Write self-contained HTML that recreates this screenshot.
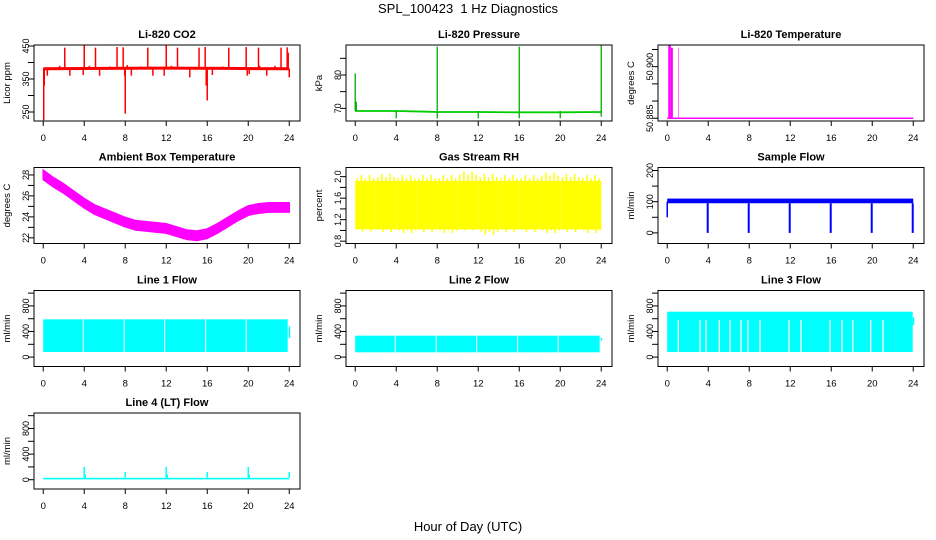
<!DOCTYPE html>
<html><head><meta charset="utf-8"><style>
html,body{margin:0;padding:0;background:#fff;}
svg{display:block;font-family:"Liberation Sans",Arial,sans-serif;}
</style></head><body>
<svg id="chart" width="936" height="540" viewBox="0 0 936 540" xmlns="http://www.w3.org/2000/svg">
<rect x="0" y="0" width="936" height="540" fill="#fff"/>
<text x="468" y="13" font-size="13" text-anchor="middle">SPL_100423&#160; 1 Hz Diagnostics</text>
<text x="468" y="531" font-size="13" text-anchor="middle">Hour of Day (UTC)</text>
</svg>
<script>
// ---------- data ----------
const xTicks = [0,4,8,12,16,20,24];
// CO2
const co2Base = [[0,381],[6,382],[12,383],[18,382],[24,381]];
const co2Spikes = [[2.1,445],[4.0,452],[5.1,445],[7.2,447],[7.8,446],[10.2,445],[12.0,452],[13.1,445],[15.2,445],[15.8,447],[18.1,445],[19.8,447],[21.0,445],[23.2,445],[23.8,446],[23.9,430],
 [0.05,225],[0.1,330],[8.0,245],[16.0,285],[15.9,330],[7.95,360],[0.4,360],[2.6,360],[3.9,362],[5.5,360],[8.6,360],[10.7,360],[11.8,360],[14.3,355],[16.5,362],[19.9,360],[20.1,365],[21.8,360],[24.0,355],
 [1.6,390],[4.5,390],[6.5,388],[8.2,392],[9.5,388],[10.5,388],[12.5,390],[17.5,388],[21.1,390],[22.6,390]];
// Pressure
const presBase = [[0,69.2],[4,69.2],[7,69.0],[8,68.9],[12,68.9],[16,68.8],[20,68.8],[24,68.9]];
const presSpikes = [[0,80.5],[0.1,72],[8,88.5],[16,88.5],[24,89],[4,67],[8,67],[12,67],[16,67],[20,67],[24,67.5]];
// Li-820 temperature
const ltBase = 50.885;
const ltBlocks = [[0.1,0.35,50.9063],[0.35,0.55,50.9055],[1.08,1.13,50.9055]];
// Ambient box temperature (hourly center)
const ambHours = [0,1,2,3,4,5,6,7,8,9,10,11,12,13,14,15,16,17,18,19,20,21,22,23,24];
const ambTemp = [28.0,27.3,26.7,26.0,25.3,24.7,24.3,23.9,23.5,23.2,23.1,23.0,22.9,22.6,22.3,22.2,22.4,22.9,23.5,24.1,24.6,24.8,24.9,24.9,24.9];
// Gas stream RH (2-hour bins low/high)
const rhBins = [0,2,4,6,8,10,12,14,16,18,20,22];
const rhLow = [0.98,0.97,0.95,0.97,0.95,1.0,0.92,0.97,0.97,0.95,0.97,0.95];
const rhHigh = [2.03,2.05,2.03,2.03,2.03,2.1,2.05,2.03,2.03,2.08,2.05,2.03];
// Sample flow
const sfDrops = [4,8,12,16,20,24];
const sfBand = [95,110];
// Line flows
const l1Segs = [[0.0,3.85],[3.95,7.85],[7.95,11.8],[11.9,15.8],[15.9,19.75],[19.85,23.85]];
const l1Range = [80,590];
const l2Segs = [[0.0,3.85],[3.95,7.85],[7.95,11.8],[11.9,15.8],[15.9,19.75],[19.85,23.85]];
const l2Range = [75,335];
const l3Range = [79,710];
const l3Gaps = [1.08,3.2,3.78,5.08,6.12,7.2,7.88,9.05,11.88,13.05,15.88,17.05,18.1,19.85,21.05];
const l4Base = [5,30];
const l4Spikes = [[4.0,200],[4.1,80],[8,120],[12,200],[12.1,80],[16,120],[20,200],[20.1,80],[24,120]];

// ---------- layout ----------
const NS="http://www.w3.org/2000/svg";
const svg=document.getElementById('chart');
const colL=[34,346,658], rowT=[45,167.5,290.5,413], W=266, H=76;
const XMIN=-0.9, XMAX=25.05;
function mk(tag, attrs, name, parent){
  const e=document.createElementNS(NS,tag);
  for(const k in attrs) e.setAttribute(k, attrs[k]);
  
  
  (parent||svg).appendChild(e); return e;
}
function panel(c,r,title,ylab,ymin,ymax,ticks,labels,key){
  const p={l:colL[c],t:rowT[r],ymin,ymax};
  p.X=h=>p.l+(h-XMIN)/(XMAX-XMIN)*W;
  p.Y=v=>p.t+H-(v-ymin)/(ymax-ymin)*H;
  p.g=mk('g',{},key+'-panel');
  const clip=mk('clipPath',{id:'cp'+key},key+'-clip',p.g);
  mk('rect',{x:p.l,y:p.t,width:W,height:H},key+'-clip-rect',clip);
  p.d=mk('g',{'clip-path':'url(#cp'+key+')'},key+'-series',p.g);
  mk('rect',{x:p.l,y:p.t,width:W,height:H,fill:'none',stroke:'#000','stroke-width':1},key+'-plot-box',p.g);
  mk('text',{x:p.l+W/2,y:p.t-7,'font-size':11,'font-weight':'bold','text-anchor':'middle'},key+'-title',p.g).textContent=title;
  const yl=mk('text',{x:0,y:0,'font-size':9.5,'text-anchor':'middle',transform:`translate(${p.l-24},${p.t+H/2}) rotate(-90)`},key+'-y-axis-title',p.g);
  yl.textContent=ylab;
  const yb=p.t+H;
  mk('line',{x1:p.X(0),x2:p.X(24),y1:yb,y2:yb,stroke:'#000'},key+'-x-axis',p.g);
  xTicks.forEach(t=>{
    mk('line',{x1:p.X(t),x2:p.X(t),y1:yb,y2:yb+5,stroke:'#000'},key+'-x-tick',p.g);
    mk('text',{x:p.X(t),y:yb+20,'font-size':9.5,'text-anchor':'middle'},key+'-x-tick-label',p.g).textContent=t;
  });
  ticks.forEach(t=>{
    mk('line',{x1:p.l-6,x2:p.l,y1:p.Y(t),y2:p.Y(t),stroke:'#000'},key+'-y-tick',p.g);
  });
  labels.forEach(t=>{
    mk('text',{x:0,y:0,'font-size':9,'text-anchor':'middle',transform:`translate(${p.l-5},${p.Y(t[0])}) rotate(-90)`},key+'-y-tick-label',p.g).textContent=t[1];
  });
  return p;
}
function vbar(p,h,v0,v1,col,w,name){
  mk('line',{x1:p.X(h),x2:p.X(h),y1:p.Y(v0),y2:p.Y(v1),stroke:col,'stroke-width':w||1.2},name,p.d);
}
function rectv(p,h0,h1,v0,v1,col,name){
  mk('rect',{x:p.X(h0),y:p.Y(v1),width:p.X(h1)-p.X(h0),height:p.Y(v0)-p.Y(v1),fill:col},name,p.d);
}
function poly(p,pts,col,w,name){
  mk('polyline',{points:pts.map(q=>p.X(q[0])+','+p.Y(q[1])).join(' '),fill:'none',stroke:col,'stroke-width':w},name,p.d);
}

// CO2
let p=panel(0,0,'Li-820 CO2','Licor ppm',222.7,453,[250,300,350,400,450],[[250,'250'],[350,'350'],[450,'450']],'co2');
poly(p,co2Base,'#f00',3,'co2-baseline');
co2Spikes.forEach(s=>vbar(p,s[0],co2Base[0][1],s[1],'#f00',1.5,'co2-spike'));
// Pressure
p=panel(1,0,'Li-820 Pressure','kPa',66.2,89,[70,75,80,85],[[70,'70'],[80,'80']],'pres');
poly(p,presBase,'#0c0',1.8,'pressure-line');
presSpikes.forEach(s=>vbar(p,s[0],presBase[0][1],s[1],'#0a0',1.3,'pressure-spike'));
// Li temp
p=panel(2,0,'Li-820 Temperature','degrees C',50.8842,50.9063,[50.885,50.890,50.895,50.900,50.905],[[50.885,'50.885'],[50.900,'50.900']],'litemp');
poly(p,[[0,ltBase],[24,ltBase]],'#f0f',1.5,'li-temp-line');
ltBlocks.forEach(b=>rectv(p,b[0],b[1],ltBase,b[2],'#f0f','li-temp-spike'));
// Ambient
p=panel(0,1,'Ambient Box Temperature','degrees C',21.46,28.71,[22,23,24,25,26,27,28],[[22,'22'],[24,'24'],[26,'26'],[28,'28']],'amb');
{
  const up=ambHours.map((h,i)=>[h,ambTemp[i]+0.45]);
  const dn=ambHours.map((h,i)=>[h,ambTemp[i]-0.45]).reverse();
  mk('polygon',{points:up.concat(dn).map(q=>p.X(q[0])+','+p.Y(q[1])).join(' '),fill:'#f0f',stroke:'#f0f','stroke-width':1.5},'ambient-temp-band',p.d);
}
// RH
p=panel(1,1,'Gas Stream RH','percent',0.757,2.17,[0.8,1.0,1.2,1.4,1.6,1.8,2.0],[[0.8,'0.8'],[1.2,'1.2'],[1.6,'1.6'],[2.0,'2.0']],'rh');
rhBins.forEach((b,i)=>{
  rectv(p,b,b+2,1.02,1.92,'#ff0','rh-band');
  for(let k=0;k<5;k++){
    const h=b+0.2+k*0.4;
    vbar(p,h,1.9,k%2?rhHigh[i]:rhHigh[i]-0.06,'#ff0',1.5,'rh-spike-up');
    vbar(p,h+0.1,1.05,k%2?rhLow[i]:rhLow[i]+0.05,'#ff0',1.5,'rh-spike-down');
  }
});
// Sample flow
p=panel(2,1,'Sample Flow','ml/min',-34,209.6,[0,50,100,150,200],[[0,'0'],[100,'100'],[200,'200']],'sf');
rectv(p,0,24,sfBand[0],sfBand[1],'#00f','sample-flow-band');
vbar(p,0,50,100,'#00f',1.5,'sample-flow-start');
sfDrops.forEach(h=>vbar(p,h-0.05,0,sfBand[0],'#00f',2,'sample-flow-drop'));
// Line flows
const lfTicks=[0,200,400,600,800,1000], lfLabels=[[0,'0'],[400,'400'],[800,'800']];
p=panel(0,2,'Line 1 Flow','ml/min',-147,1041,lfTicks,lfLabels,'l1');
l1Segs.forEach(s=>rectv(p,s[0],s[1],l1Range[0],l1Range[1],'#0ff','line1-band'));
rectv(p,23.95,24.1,300,480,'#0ff','line1-end');
p=panel(1,2,'Line 2 Flow','ml/min',-147,1041,lfTicks,lfLabels,'l2');
l2Segs.forEach(s=>rectv(p,s[0],s[1],l2Range[0],l2Range[1],'#0ff','line2-band'));
rectv(p,23.95,24.1,260,300,'#0ff','line2-end');
p=panel(2,2,'Line 3 Flow','ml/min',-147,1041,lfTicks,lfLabels,'l3');
rectv(p,0,23.95,l3Range[0],l3Range[1],'#0ff','line3-band');
rectv(p,23.95,24.1,500,620,'#0ff','line3-end');
l3Gaps.forEach(h=>vbar(p,h,l3Range[0],580,'#fff',1.3,'line3-gap'));
p=panel(0,3,'Line 4 (LT) Flow','ml/min',-145,1042,lfTicks,lfLabels,'l4');
rectv(p,0,24,l4Base[0],l4Base[1],'#0ff','line4-base');
l4Spikes.forEach(s=>vbar(p,s[0],l4Base[1],s[1],'#0ff',1.5,'line4-spike'));
</script>
</body></html>
